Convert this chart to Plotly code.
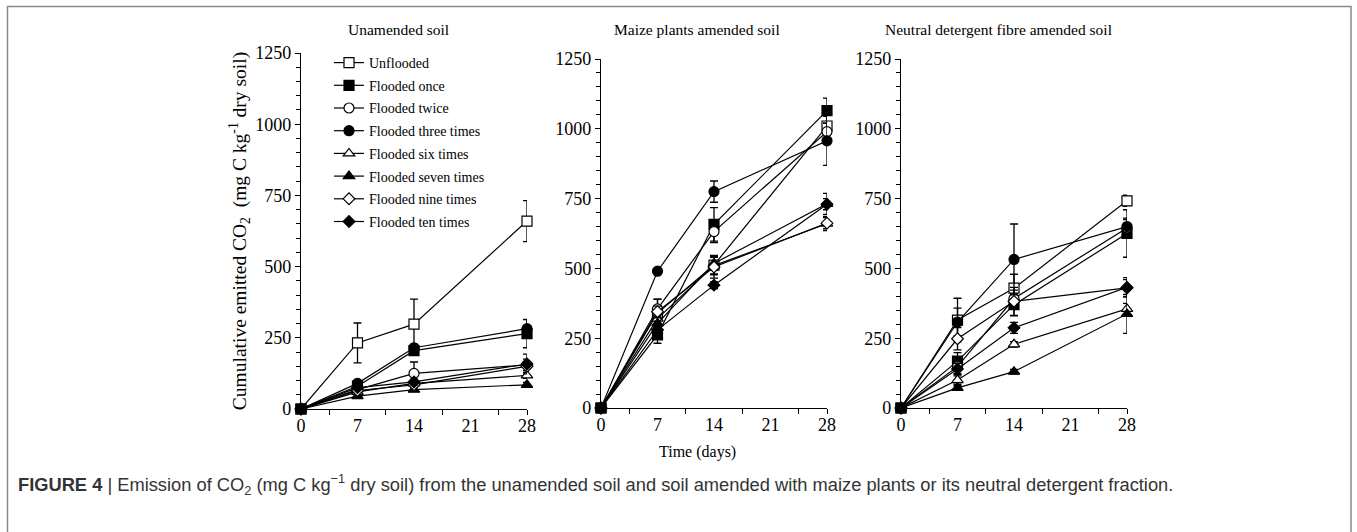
import plotly.graph_objects as go

days = [0, 7, 14, 28]
series_names = ["Unflooded", "Flooded once", "Flooded twice", "Flooded three times",
                "Flooded six times", "Flooded seven times", "Flooded nine times", "Flooded ten times"]

# Unamended soil
unamended = {
    "Unflooded": [0, 232, 298, 660],
    "Flooded once": [0, 80, 205, 265],
    "Flooded twice": [0, 68, 125, 155],
    "Flooded three times": [0, 90, 215, 282],
    "Flooded six times": [0, 60, 90, 118],
    "Flooded seven times": [0, 45, 68, 85],
    "Flooded nine times": [0, 65, 85, 150],
    "Flooded ten times": [0, 75, 95, 158],
}
unamended_err = {
    "Unflooded": [0, 70, 88, 72],
    "Flooded once": [0, 8, 10, 50],
    "Flooded twice": [0, 8, 40, 20],
    "Flooded three times": [0, 8, 12, 32],
    "Flooded six times": [0, 6, 8, 10],
    "Flooded seven times": [0, 5, 6, 8],
    "Flooded nine times": [0, 6, 8, 15],
    "Flooded ten times": [0, 5, 10, 35],
}

# Maize plants amended soil
maize = {
    "Unflooded": [0, 340, 512, 1010],
    "Flooded once": [0, 262, 658, 1065],
    "Flooded twice": [0, 355, 632, 990],
    "Flooded three times": [0, 490, 775, 957],
    "Flooded six times": [0, 320, 510, 660],
    "Flooded seven times": [0, 303, 518, 731],
    "Flooded nine times": [0, 345, 505, 662],
    "Flooded ten times": [0, 280, 440, 730],
}
maize_err = {
    "Unflooded": [0, 50, 35, 40],
    "Flooded once": [0, 30, 60, 45],
    "Flooded twice": [0, 35, 40, 30],
    "Flooded three times": [0, 10, 38, 88],
    "Flooded six times": [0, 20, 30, 25],
    "Flooded seven times": [0, 20, 25, 38],
    "Flooded nine times": [0, 20, 40, 20],
    "Flooded ten times": [0, 15, 12, 20],
}

# Neutral detergent fibre amended soil
ndf = {
    "Unflooded": [0, 315, 429, 742],
    "Flooded once": [0, 168, 370, 625],
    "Flooded twice": [0, 148, 392, 645],
    "Flooded three times": [0, 308, 532, 650],
    "Flooded six times": [0, 100, 228, 355],
    "Flooded seven times": [0, 72, 130, 337],
    "Flooded nine times": [0, 248, 382, 430],
    "Flooded ten times": [0, 140, 287, 432],
}
ndf_err = {
    "Unflooded": [0, 78, 50, 20],
    "Flooded once": [0, 30, 40, 85],
    "Flooded twice": [0, 25, 30, 30],
    "Flooded three times": [0, 50, 127, 30],
    "Flooded six times": [0, 15, 10, 20],
    "Flooded seven times": [0, 8, 8, 70],
    "Flooded nine times": [0, 40, 50, 30],
    "Flooded ten times": [0, 20, 20, 35],
}

panel_titles = ["Unamended soil", "Maize plants amended soil", "Neutral detergent fibre amended soil"]
x_ticks = [0, 7, 14, 21, 28]
y_ticks = [0, 250, 500, 750, 1000, 1250]

styles = {
    "Unflooded": ("square", "white", 10),
    "Flooded once": ("square", "black", 10),
    "Flooded twice": ("circle", "white", 10),
    "Flooded three times": ("circle", "black", 10),
    "Flooded six times": ("triangle-up", "white", 10),
    "Flooded seven times": ("triangle-up", "black", 10),
    "Flooded nine times": ("diamond", "white", 9),
    "Flooded ten times": ("diamond", "black", 9),
}

W, H = 1357, 532
def px_x(p): return p / W
def px_y(p): return 1 - p / H

SERIF = "Liberation Serif, Times New Roman, serif"

fig = go.Figure()
panels = [(unamended, unamended_err), (maize, maize_err), (ndf, ndf_err)]
for i, (vals, errs) in enumerate(panels):
    ax = "" if i == 0 else str(i + 1)
    for name in series_names:
        sym, col, sz = styles[name]
        fig.add_trace(go.Scatter(
            x=days, y=vals[name], name=name, mode="lines+markers",
            xaxis="x" + ax, yaxis="y" + ax, cliponaxis=False,
            line=dict(color="black", width=1.2),
            marker=dict(symbol=sym, color=col, size=sz, line=dict(color="black", width=1.2)),
            error_y=dict(type="data", array=errs[name], visible=True, color="black",
                         thickness=1.3, width=4),
            showlegend=(i == 0), legendgroup=name,
        ))

x_domains = [(301, 527), (601, 827), (901, 1127)]
y_domains = [(409, 53), (408, 59), (408, 59)]
layout = {}
for i in range(3):
    ax = "" if i == 0 else str(i + 1)
    xd = x_domains[i]
    yd = y_domains[i]
    layout["xaxis" + ax] = dict(
        domain=[px_x(xd[0]), px_x(xd[1])], range=[0, 28], anchor="y" + ax,
        tickmode="array", tickvals=x_ticks, ticks="", showgrid=False, zeroline=False,
        showline=True, linecolor="black", linewidth=1.2, automargin=False,
        tickfont=dict(family=SERIF, size=18, color="black"),
        minor=dict(tickmode="array", tickvals=[3.5, 10.5, 17.5, 24.5, 28], ticks="outside",
                   ticklen=5, tickcolor="black", tickwidth=1.2, showgrid=False),
        fixedrange=True,
    )
    layout["yaxis" + ax] = dict(
        domain=[px_y(yd[0]), px_y(yd[1])], range=[0, 1250], anchor="x" + ax,
        tickmode="array", tickvals=y_ticks, ticks="outside", ticklen=5, tickcolor="black",
        tickwidth=1.2, showgrid=False, zeroline=False, automargin=False,
        showline=True, linecolor="black", linewidth=1.2,
        tickfont=dict(family=SERIF, size=18, color="black"),
        minor=dict(dtick=50, tick0=0, ticks="outside", ticklen=4, tickcolor="black",
                   tickwidth=1.2, showgrid=False),
        fixedrange=True,
    )

layout["yaxis"]["title"] = dict(
    text="Cumulative emitted CO<sub>2</sub>  (mg C kg<sup>-1</sup> dry soil)",
    font=dict(family=SERIF, size=19.5, color="black"), standoff=3)

annotations = []
title_centers = [398, 697, 998]
for t, cx in zip(panel_titles, title_centers):
    annotations.append(dict(text=t, x=px_x(cx), y=px_y(30), xref="paper", yref="paper",
                            showarrow=False, xanchor="center", yanchor="middle",
                            font=dict(family=SERIF, size=15.5, color="black")))
annotations.append(dict(text="Time (days)", x=px_x(697), y=px_y(452), xref="paper", yref="paper",
                        showarrow=False, xanchor="center", yanchor="middle",
                        font=dict(family=SERIF, size=16, color="black")))
annotations.append(dict(
    text="<b>FIGURE 4</b> | Emission of CO<sub>2</sub> (mg C kg<sup>\u22121</sup> dry soil) from the unamended soil and soil amended with maize plants or its neutral detergent fraction.",
    x=px_x(16), y=px_y(484), xref="paper", yref="paper", showarrow=False,
    xanchor="left", yanchor="middle",
    font=dict(family="Liberation Sans, Arial, sans-serif", size=18.3, color="#333333")))

fig.update_layout(
    **layout,
    template="none",
    width=W, height=H,
    margin=dict(l=0, r=0, t=0, b=0, pad=0, autoexpand=False),
    paper_bgcolor="white", plot_bgcolor="white",
    annotations=annotations,
    shapes=[dict(type="rect", xref="paper", yref="paper", x0=px_x(7.5), x1=px_x(1351),
                 y0=px_y(580), y1=px_y(6.5), line=dict(color="#8a8a8a", width=1.5))],
    legend=dict(x=px_x(329), y=px_y(47), xanchor="left", yanchor="top",
                bgcolor="rgba(0,0,0,0)", borderwidth=0, itemwidth=30,
                font=dict(family=SERIF, size=14, color="black"), tracegroupgap=1.5,
                traceorder="grouped"),
    showlegend=True,
)

fig.write_html("out.html",
               post_script="document.body.style.margin='0';document.body.style.padding='0';")
